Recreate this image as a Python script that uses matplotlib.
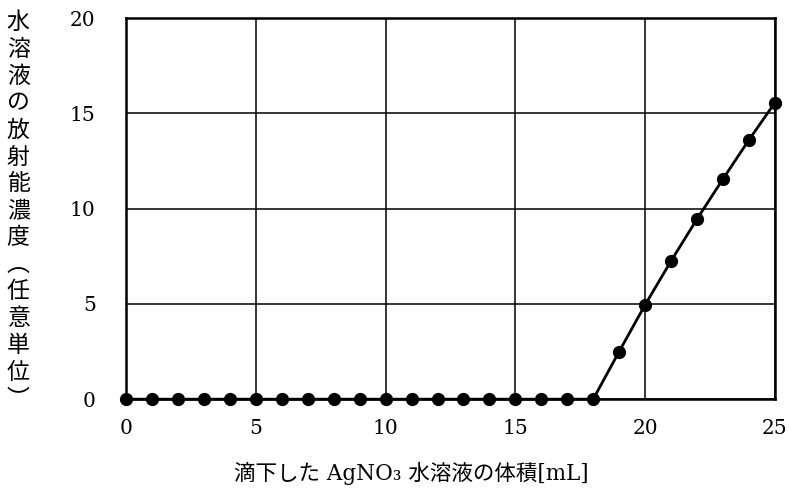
import matplotlib.pyplot as plt

# data
volume_ml = list(range(0, 26))
activity = [0.0] * 19 + [2.5, 4.95, 7.25, 9.45, 11.55, 13.6, 15.55]

x_ticks = [0, 5, 10, 15, 20, 25]
y_ticks = [0, 5, 10, 15, 20]

y_label = "水溶液の放射能濃度︵任意単位︶"
x_label = "滴下した AgNO₃ 水溶液の体積[mL]"

plt.rcParams['font.family'] = ['DejaVu Serif', 'Noto Sans CJK JP']

fig = plt.figure(figsize=(7.89, 4.88), dpi=100)
ax = fig.add_axes([0.16, 0.182, 0.822, 0.781])

ax.plot(volume_ml, activity, color="black", lw=2.0, marker="o",
        markersize=8.5, clip_on=False, zorder=3)

ax.set_xlim(0, 25)
ax.set_ylim(0, 20)
ax.set_xticks(x_ticks)
ax.set_yticks(y_ticks)
ax.tick_params(length=0, labelsize=14.5, pad=14)
ax.tick_params(axis="y", pad=22)
ax.grid(True, color="black", lw=1.1)
for s in ax.spines.values():
    s.set_linewidth(1.8)

ax.set_xlabel(x_label, fontsize=15.5,
              family=['DejaVu Serif', 'Noto Sans CJK JP'])
ax.xaxis.set_label_coords(0.44, -0.165)
fig.text(0.023, 0.978, "\n".join(y_label), fontsize=16.5, va="top", ha="center",
         linespacing=1.22, family=['Noto Sans CJK JP', 'DejaVu Sans'])

fig.savefig("out.png", dpi=100)
